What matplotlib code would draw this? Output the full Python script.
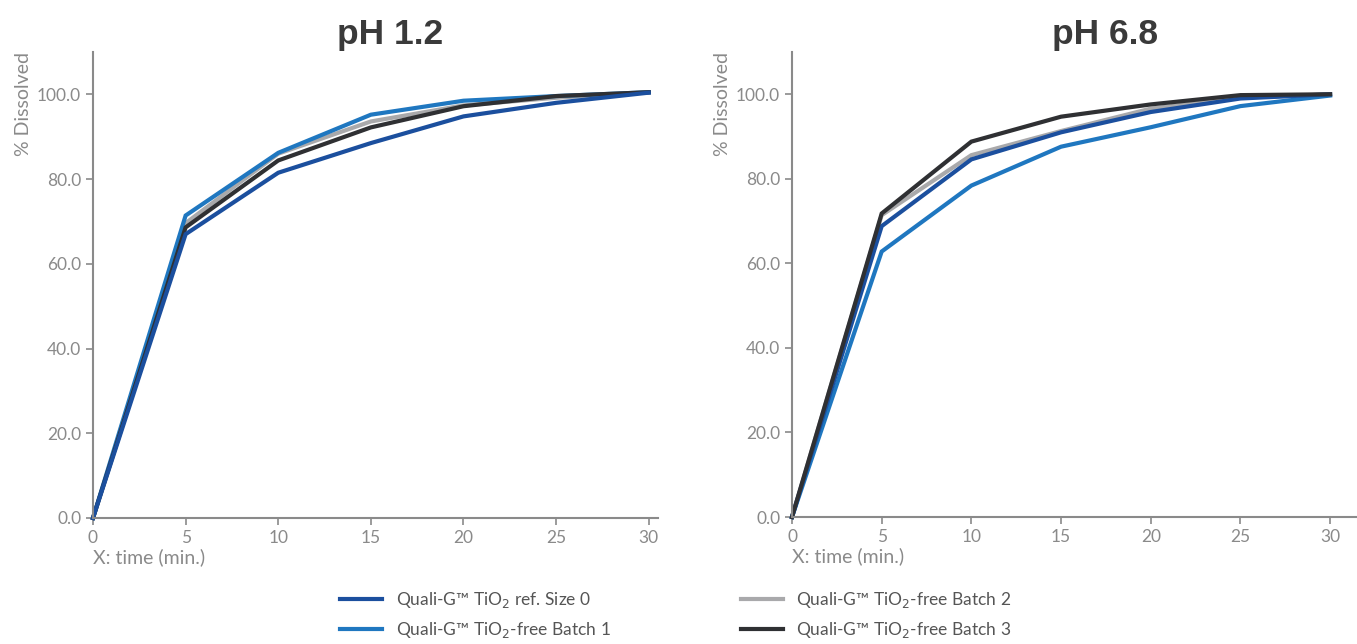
import numpy as np
import matplotlib
matplotlib.use("Agg")
import matplotlib.pyplot as plt

plt.rcParams['font.family'] = ['Lato', 'DejaVu Sans']

# data
time = [0, 5, 10, 15, 20, 25, 30]

ph12_ref = [0, 67.0, 81.5, 88.5, 94.8, 98.0, 100.4]
ph12_b1 = [0, 71.4, 86.2, 95.2, 98.5, 99.6, 100.5]
ph12_b2 = [0, 69.6, 86.0, 93.6, 97.4, 99.2, 100.5]
ph12_b3 = [0, 68.6, 84.4, 92.2, 97.2, 99.6, 100.5]

ph68_ref = [0, 68.8, 84.6, 91.0, 95.8, 99.0, 100.0]
ph68_b1 = [0, 62.8, 78.4, 87.6, 92.2, 97.2, 99.7]
ph68_b2 = [0, 71.4, 85.6, 91.3, 96.6, 99.2, 100.0]
ph68_b3 = [0, 71.8, 88.8, 94.7, 97.6, 99.8, 100.0]

labels = ["Quali-G\u2122 TiO$_2$ ref. Size 0",
          "Quali-G\u2122 TiO$_2$-free Batch 1",
          "Quali-G\u2122 TiO$_2$-free Batch 2",
          "Quali-G\u2122 TiO$_2$-free Batch 3"]
colors = ["#1B4F9E", "#1F77C0", "#A9A9AB", "#2F3033"]

yticks = [0, 20, 40, 60, 80, 100]
xticks = [0, 5, 10, 15, 20, 25, 30]

GRAY = "#8a8a8a"

fig = plt.figure(figsize=(13.57, 6.44), dpi=100)
ax1 = fig.add_axes([93/1357, 126/644, 565/1357, 466/644])
ax2 = fig.add_axes([792/1357, 127/644, 565/1357, 465/644])


def style_axes(ax, title, xmax, title_x):
    for s in ["top", "right"]:
        ax.spines[s].set_visible(False)
    for s in ["left", "bottom"]:
        ax.spines[s].set_color(GRAY)
        ax.spines[s].set_linewidth(1.5)
    ax.set_xlim(0, xmax)
    ax.set_ylim(0, 110)
    ax.set_xticks(xticks)
    ax.set_yticks(yticks)
    ax.set_yticklabels([f"{v:.1f}" for v in yticks])
    ax.tick_params(colors=GRAY, labelcolor=GRAY, labelsize=12.5, length=5, width=1.2)
    ax.set_ylabel("% Dissolved", color=GRAY, fontsize=14, loc="top", labelpad=4)
    ax.set_xlabel("X: time (min.)", color=GRAY, fontsize=14, loc="left", labelpad=2)
    ax.set_title(title, fontsize=25.5, fontweight="bold", color="#3a3a3a",
                 family="Liberation Sans", x=title_x, pad=6)


series1 = [ph12_ref, ph12_b1, ph12_b2, ph12_b3]
series2 = [ph68_ref, ph68_b1, ph68_b2, ph68_b3]
# draw order so that the darker lines sit on top as in the original
order1 = [2, 1, 3, 0]
order2 = [2, 1, 0, 3]
handles = [None] * 4
for i in order1:
    handles[i], = ax1.plot(time, series1[i], color=colors[i], lw=3, label=labels[i],
                           solid_joinstyle="miter", clip_on=False)
for i in order2:
    ax2.plot(time, series2[i], color=colors[i], lw=3, solid_joinstyle="miter", clip_on=False)

style_axes(ax1, "pH 1.2", 30.5, 0.526)
style_axes(ax2, "pH 6.8", 31.5, 0.554)

fig.legend(handles, labels, ncol=2, loc="center", bbox_to_anchor=(676/1357, 0.045),
           frameon=False, fontsize=12.5, handlelength=2.4, columnspacing=7.5,
           labelspacing=0.6, handletextpad=0.8, labelcolor="#555555")

plt.savefig("out.png", dpi=100)
